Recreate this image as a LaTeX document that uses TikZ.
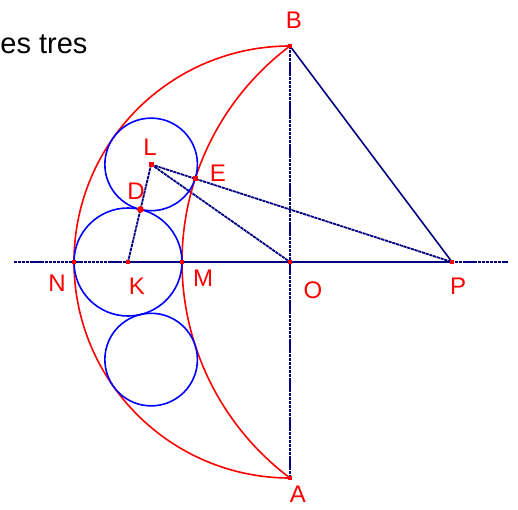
\documentclass[tikz,border=0pt]{standalone}
\usepackage{fontspec}
\setmainfont{Liberation Sans}
\usetikzlibrary{calc}
\begin{document}
\begin{tikzpicture}[x=27pt,y=27pt,font=\fontsize{12}{13}\selectfont]
\tikzstyle{lbl}=[text=red,inner sep=0pt]
\tikzstyle{dsh}=[draw=blue!50!black,line width=0.9pt,dash pattern=on 1.6pt off 0.35pt]
\tikzstyle{arcr}=[draw=red,line width=0.8pt]
\tikzstyle{circb}=[draw=blue,line width=0.8pt]
\useasboundingbox (-290/54,-247/54) rectangle (228/54,262/54);
\coordinate (O) at (0,0); \coordinate (P) at (3,0); \coordinate (B) at (0,4); \coordinate (A) at (0,-4);
\coordinate (N) at (-4,0); \coordinate (M) at (-2,0); \coordinate (K) at (-3,0);
\coordinate (L) at (-18/7,{sqrt(160)/7}); \coordinate (Q) at (-18/7,{-sqrt(160)/7});
\coordinate (D) at ($(K)!7/13!(L)$); \coordinate (E) at ($(P)!35/41!(L)$);
\coordinate (xl) at (-276/54,0); \coordinate (xr) at (218/54,0);
\node[anchor=base west,inner sep=0pt,font=\fontsize{14.5}{15}\selectfont] (txt) at (-290/54,{(262-53.3)/54}) {es tres};
% axes and segments
\draw[dsh] (xl) -- (xr); \draw[dsh] (B) -- (A);
\draw[blue!50!black,line width=1pt] (K) -- (P);
\draw[blue!50!black,line width=0.8pt] (B) -- (P);
\draw[dsh] (L) -- (P); \draw[dsh] (L) -- (O); \draw[dsh] (L) -- (K);
% arcs
\draw[arcr] (B) arc[start angle=90,end angle=270,radius=4];
\draw[arcr] (B) arc[start angle=126.87,end angle=233.13,radius=5];
% circles
\draw[circb] (K) circle[radius=1]; \draw[circb] (L) circle[radius=6/7]; \draw[circb] (Q) circle[radius=6/7];
% points
\foreach \p in {O,P,B,A,N,M,K,L,E} \fill[red] ($(\p)+(-1.2pt,-1.2pt)$) rectangle +(2.4pt,2.4pt);
\fill[red] (D) circle[radius=1.7pt];
% labels
\node[lbl] (lB) at ({4/54},{(262-20)/54}) {B}; \node[lbl] (lA) at ({8/54},{(262-494)/54}) {A};
\node[lbl] (lO) at ({23/54},{(262-290)/54}) {O}; \node[lbl] (lP) at ({168/54},{(262-286)/54}) {P};
\node[lbl] (lN) at ({-233/54},{(262-283)/54}) {N}; \node[lbl] (lK) at ({-153/54},{(262-286)/54}) {K};
\node[lbl] (lM) at ({-87/54},{(262-278)/54}) {M}; \node[lbl] (lL) at ({-140/54},{(262-147)/54}) {L};
\node[lbl] (lD) at ({-154/54},{(262-191)/54}) {D}; \node[lbl] (lE) at ({-72/54},{(262-173)/54}) {E};
\end{tikzpicture}
\end{document}
